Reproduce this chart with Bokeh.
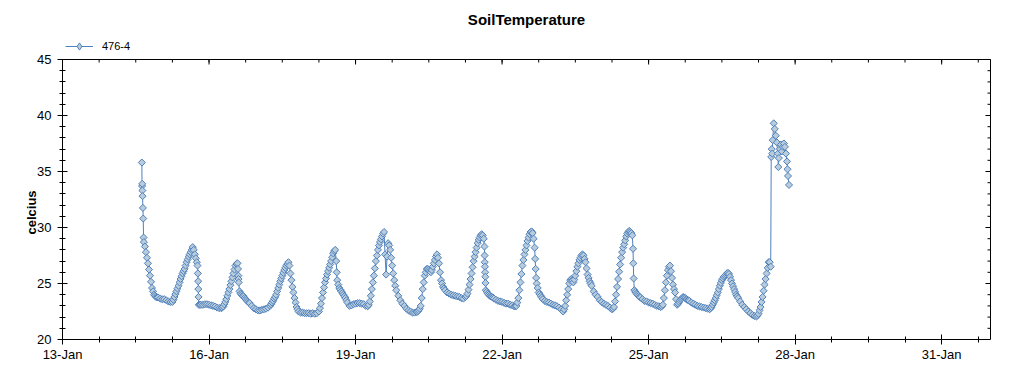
import numpy as np
import pandas as pd
from bokeh.plotting import figure
from bokeh.models import (FixedTicker, DatetimeTickFormatter, Range1d, Legend,
                          LegendItem, ColumnDataSource, Label, Title)
from bokeh.embed import file_html
from bokeh.resources import INLINE

title_text = "SoilTemperature"
series_name = "476-4"
y_label = "celcius"

# hourly readings (°C), each list starts at the given time
jan14_start = "2014-01-14 15:00"
jan14 = [35.8, 28.7, 27.8, 26.8, 25.7, 24.6, 24.0, 23.8, 23.75]
jan15 = [23.65, 23.6, 23.6, 23.5, 23.4, 23.35, 23.35, 23.8, 24.3, 24.8, 25.4, 25.9,
         26.3, 26.9, 27.4, 27.8, 28.25, 27.6, 26.9, 23.1, 23.1, 23.1, 23.15, 23.15]
jan16 = [23.1, 23.05, 23.0, 22.95, 22.85, 22.8, 22.8, 22.95, 23.35, 23.9, 24.5, 25.2,
         25.9, 26.6, 26.8, 24.3, 24.0, 23.85, 23.6, 23.4, 23.25, 23.0, 22.8, 22.7]
jan17 = [22.6, 22.6, 22.65, 22.7, 22.75, 22.85, 23.0, 23.3, 23.65, 24.0, 24.6, 25.2,
         25.7, 26.2, 26.6, 26.9, 25.9, 24.7, 23.7, 22.9, 22.5, 22.4, 22.4, 22.35]
jan18 = [22.35, 22.35, 22.3, 22.35, 22.3, 22.35, 22.5, 23.2, 24.2, 25.1, 25.8, 26.4,
         27.0, 27.7, 28.0, 25.3, 24.6, 24.3, 24.0, 23.7, 23.3, 23.0, 23.05, 23.15]
jan19 = [23.2, 23.25, 23.25, 23.2, 23.15, 23.0, 22.97, 23.4, 24.5, 25.7, 27.0, 28.0,
         28.7, 29.2, 29.6, 25.8, 28.6, 28.0, 26.6, 25.3, 24.4, 23.9, 23.5, 23.2]
jan20 = [23.0, 22.75, 22.6, 22.5, 22.4, 22.4, 22.45, 22.6, 23.0, 24.5, 25.7, 26.3,
         26.2, 26.0, 26.5, 27.1, 27.6, 26.8, 25.3, 24.7, 24.4, 24.2, 24.1, 24.0]
jan21 = [23.95, 23.9, 23.85, 23.8, 23.7, 23.65, 23.8, 24.1, 24.9, 25.9, 27.0, 27.8,
         28.6, 29.1, 29.4, 29.0, 24.4, 24.1, 23.9, 23.8, 23.66, 23.55, 23.45, 23.4]
jan22 = [23.35, 23.27, 23.2, 23.2, 23.1, 23.05, 22.95, 23.0, 23.7, 25.1, 26.6, 27.6,
         28.4, 29.1, 29.6, 29.5, 28.2, 25.0, 24.2, 23.9, 23.6, 23.45, 23.35, 23.3]
jan23 = [23.2, 23.1, 23.05, 22.97, 22.85, 22.7, 22.5, 23.0, 24.0, 25.0, 25.4, 25.1,
         25.7, 26.5, 27.1, 27.5, 27.5, 26.9, 25.8, 25.2, 24.8, 24.3, 24.0, 23.8]
jan24 = [23.5, 23.35, 23.2, 23.1, 23.0, 22.85, 22.7, 22.9, 24.0, 25.4, 26.7, 27.8,
         28.5, 29.2, 29.6, 29.6, 29.3, 24.4, 24.1, 23.9, 23.75, 23.6, 23.45, 23.4]
jan25 = [23.3, 23.25, 23.2, 23.1, 23.0, 22.97, 22.9, 23.1, 24.4, 25.7, 26.5, 26.1,
         24.9, 24.2, 23.1, 23.35, 23.6, 23.8, 23.7, 23.55, 23.45, 23.3, 23.2, 23.1]
jan26 = [23.0, 22.95, 22.9, 22.85, 22.8, 22.75, 22.7, 22.9, 23.3, 23.7, 24.2, 24.8,
         25.3, 25.6, 25.8, 25.95, 25.6, 25.0, 24.5, 24.0, 23.7, 23.4, 23.1, 22.9]
jan27 = [22.7, 22.5, 22.35, 22.2, 22.1, 22.05, 22.3, 22.9, 23.8, 24.9, 25.9, 26.9, 26.5]

# half-past readings during the daytime swings, each list starts at the given time
jan14_half_start = "2014-01-14 16:30"
jan14_half = [28.3, 27.3, 26.25, 25.15, 24.3, 23.9, 23.77]
jan15_half = [23.55, 24.05, 24.55, 25.1, 25.65, 26.1, 26.6, 27.15, 27.6, 28.0, 28.0,
              27.25, 25.9, 23.1]
jan16_half = [22.85, 23.15, 23.6, 24.2, 24.85, 25.55, 26.25, 26.75, 25.4, 24.1, 23.9,
              23.7, 23.5, 23.3]
jan17_half = [23.15, 23.45, 23.8, 24.3, 24.9, 25.45, 25.95, 26.4, 26.75, 26.6, 25.3,
              24.2, 23.3, 22.7]
jan18_half = [22.8, 23.7, 24.65, 25.45, 26.1, 26.7, 27.35, 27.9, 27.0, 24.9, 24.45,
              24.15, 23.85, 23.5]
jan19_half = [23.1, 23.9, 25.1, 26.35, 27.5, 28.4, 28.95, 29.45, 27.6, 27.4, 28.4,
              27.3, 25.9, 24.8]
jan20_half = [22.5, 22.75, 23.7, 25.1, 26.0, 26.3, 26.1, 26.2, 26.8, 27.4, 27.3, 26.0,
              25.0, 24.55]
jan21_half = [23.9, 24.45, 25.4, 26.45, 27.4, 28.2, 28.9, 29.3, 29.3, 26.9, 24.25,
              24.0, 23.85, 23.75]
jan22_half = [22.97, 23.3, 24.4, 25.85, 27.1, 28.0, 28.8, 29.4, 29.65, 29.0, 26.3,
              24.6, 24.05, 23.75]
jan23_half = [22.7, 23.5, 24.5, 25.3, 25.3, 25.35, 26.1, 26.8, 27.3, 27.6, 27.2, 26.35,
              25.5, 25.0]
jan24_half = [22.75, 23.4, 24.7, 26.05, 27.3, 28.2, 28.85, 29.45, 29.7, 29.5, 26.8,
              24.25, 24.0, 23.8]
jan25_half = [22.97, 23.7, 25.1, 26.2, 26.6, 25.5, 24.5, 23.6, 23.2, 23.5, 23.7, 23.75,
              23.6, 23.5]
jan26_half = [22.8, 23.1, 23.5, 23.95, 24.5, 25.05, 25.45, 25.7, 25.9, 25.85, 25.3,
              24.75, 24.25, 23.85]
jan27_half_start = "2014-01-27 05:30"
jan27_half = [22.15, 22.6, 23.35, 24.35, 25.4, 26.4, 26.9]

# extra readings between the hours (fast changes)
burst_times = [
    "2014-01-14 15:05", "2014-01-14 15:10", "2014-01-14 15:15", "2014-01-14 15:20",
    "2014-01-14 15:30", "2014-01-14 15:40", "2014-01-14 15:50",
    "2014-01-15 18:20", "2014-01-15 18:30", "2014-01-15 18:40", "2014-01-15 18:45",
    "2014-01-15 18:50",
    "2014-01-16 14:15", "2014-01-16 14:25", "2014-01-16 14:35",
    "2014-01-18 14:30", "2014-01-18 14:45",
    "2014-01-19 14:30", "2014-01-19 15:30",
    "2014-01-21 15:20", "2014-01-21 15:25", "2014-01-21 15:30", "2014-01-21 15:35",
    "2014-01-21 15:40", "2014-01-21 15:45", "2014-01-21 15:50",
    "2014-01-22 16:15", "2014-01-22 16:30", "2014-01-22 16:45",
    "2014-01-24 16:20", "2014-01-24 16:40",
    "2014-01-27 12:15", "2014-01-27 12:30", "2014-01-27 12:45", "2014-01-27 13:00",
    "2014-01-27 13:30", "2014-01-27 14:00", "2014-01-27 14:30", "2014-01-27 15:00",
    "2014-01-27 15:30", "2014-01-27 15:45", "2014-01-27 16:00", "2014-01-27 16:30",
    "2014-01-27 17:00", "2014-01-27 17:30", "2014-01-27 18:00", "2014-01-27 18:30",
    "2014-01-27 19:00", "2014-01-27 19:30", "2014-01-27 20:00", "2014-01-27 20:15",
    "2014-01-27 20:30", "2014-01-27 21:00",
]
burst_temps = [
    33.7, 33.9, 33.3, 32.8, 31.75, 30.8, 29.1,
    26.6, 25.9, 25.2, 24.5, 23.8,
    26.3, 25.7, 25.1,
    27.0, 26.0,
    27.6, 27.4,
    28.3, 27.5, 26.9, 26.5, 26.0, 25.6, 25.05,
    27.2, 26.3, 25.5,
    28.1, 25.45,
    36.3, 37.0, 36.6, 37.8, 39.3, 38.8, 38.2, 37.6, 36.6, 35.4, 36.2, 37.0,
    37.4, 36.8, 37.2, 37.5, 37.2, 36.6, 35.9, 35.2, 34.6, 33.8,
]

x_start = "2014-01-13"
x_end = "2014-02-01"
x_major_ticks = ["2014-01-13", "2014-01-16", "2014-01-19", "2014-01-22",
                 "2014-01-25", "2014-01-28", "2014-01-31"]
y_min, y_max = 20, 45
y_major = [20, 25, 30, 35, 40, 45]

# ---- build table ----
day_lists = [(jan14_start, jan14), ("2014-01-15", jan15), ("2014-01-16", jan16),
             ("2014-01-17", jan17), ("2014-01-18", jan18), ("2014-01-19", jan19),
             ("2014-01-20", jan20), ("2014-01-21", jan21), ("2014-01-22", jan22),
             ("2014-01-23", jan23), ("2014-01-24", jan24), ("2014-01-25", jan25),
             ("2014-01-26", jan26), ("2014-01-27", jan27),
             (jan14_half_start, jan14_half),
             ("2014-01-15 06:30", jan15_half), ("2014-01-16 06:30", jan16_half),
             ("2014-01-17 06:30", jan17_half), ("2014-01-18 06:30", jan18_half),
             ("2014-01-19 06:30", jan19_half), ("2014-01-20 06:30", jan20_half),
             ("2014-01-21 06:30", jan21_half), ("2014-01-22 06:30", jan22_half),
             ("2014-01-23 06:30", jan23_half), ("2014-01-24 06:30", jan24_half),
             ("2014-01-25 06:30", jan25_half), ("2014-01-26 06:30", jan26_half),
             (jan27_half_start, jan27_half)]
frames = [pd.DataFrame({"t": pd.to_datetime(burst_times), "v": burst_temps})]
for start, vals in day_lists:
    frames.append(pd.DataFrame({"t": pd.date_range(start, periods=len(vals), freq="h"),
                                "v": vals}))
df = (pd.concat(frames).drop_duplicates("t", keep="first")
      .sort_values("t").reset_index(drop=True))
src = ColumnDataSource(df)

# ---- layout constants ----
FONT = "Liberation Sans"
LINE = "#4F81BD"
FILL = "#B9CCDB"
PLOT_W, PLOT_H = 928, 280      # box of the axes (pixels)
EXTRA_TOP = 54                 # room above the box for title and legend
EXTRA_RIGHT = 3
FW, FH = PLOT_W + EXTRA_RIGHT, PLOT_H + EXTRA_TOP

ms = lambda s: pd.Timestamp(s).value / 1e6
x0_ms, x1_ms = ms(x_start), ms(x_end)
px = (x1_ms - x0_ms) / PLOT_W      # ms per pixel
py = (y_max - y_min) / PLOT_H      # degrees per pixel

p = figure(frame_width=FW, frame_height=FH, x_axis_type="datetime",
           x_range=Range1d(x0_ms, x1_ms + EXTRA_RIGHT * px),
           y_range=Range1d(y_min, y_max + EXTRA_TOP * py),
           output_backend="svg", toolbar_location=None, title=None,
           min_border_left=62, min_border_right=23, min_border_top=5,
           min_border_bottom=30)
p.xgrid.visible = False
p.ygrid.visible = False
p.outline_line_color = None
p.background_fill_color = "white"

line_r = p.line("t", "v", source=src, line_color=LINE, line_width=1)
pts_r = p.scatter("t", "v", source=src, marker="square", angle=np.pi / 4, size=5,
                  line_color=LINE, fill_color=FILL, line_width=1)
# legend sample marker (a single empty NaN point, never drawn in the plot)
legend_pt = p.scatter(x=[float("nan")], y=[float("nan")], marker="diamond", size=8,
                      line_color=LINE, fill_color=FILL, line_width=1)

major = [ms(s) for s in x_major_ticks]
minor = [ms(t) for t in pd.date_range(x_start, x_end, freq="18h")]
xticker = FixedTicker(ticks=major, minor_ticks=minor)
fmt = DatetimeTickFormatter(days="%d-%b", months="%d-%b", hours="%d-%b", years="%d-%b")
y_minor = [v for v in range(y_min, y_max + 1) if v not in y_major]
yticker = FixedTicker(ticks=y_major, minor_ticks=y_minor)

xa = p.xaxis[0]
xa.ticker = xticker
xa.formatter = fmt
xa.bounds = (x0_ms, x1_ms)
ya = p.yaxis[0]
ya.ticker = yticker
ya.bounds = (y_min, y_max)
for ax in (xa, ya):
    ax.axis_line_color = "black"
    ax.major_tick_line_color = "black"
    ax.minor_tick_line_color = "black"
    ax.major_tick_in = 5
    ax.major_tick_out = 5
    ax.minor_tick_in = 3
    ax.minor_tick_out = 3
    ax.major_label_text_font = FONT
    ax.major_label_text_font_size = "13px"
    ax.major_label_text_color = "black"
xa.major_label_standoff = 2
ya.major_label_standoff = 6

# y-axis title, placed beside the 20..45 box
p.add_layout(Title(text=y_label, align="left", offset=105,
                   standoff=-8, text_font=FONT, text_font_size="13px",
                   text_font_style="bold", text_color="black"), "left")

# top and right edges of the box, with inward ticks
p.segment(x0=[x0_ms, x1_ms], x1=[x1_ms, x1_ms], y0=[y_max, y_min], y1=[y_max, y_max],
          line_color="black", line_width=1)
top_x = major + minor
top_len = [5] * len(major) + [3] * len(minor)
p.segment(x0=top_x, x1=top_x, y0=[y_max] * len(top_x),
          y1=[y_max - L * py for L in top_len], line_color="black", line_width=1)
right_y = y_major + y_minor
right_len = [5] * len(y_major) + [3] * len(y_minor)
p.segment(x0=[x1_ms] * len(right_y), x1=[x1_ms - L * px for L in right_len],
          y0=right_y, y1=right_y, line_color="black", line_width=1)

# legend just above the box, top-left
legend = Legend(items=[LegendItem(label=series_name, renderers=[line_r, legend_pt])],
                orientation="horizontal", location=(3, PLOT_H + 4),
                glyph_width=28, glyph_height=18, label_height=18, label_standoff=9,
                padding=0, margin=0, spacing=0,
                label_text_font=FONT, label_text_font_size="11px",
                label_text_color="black",
                border_line_color=None, background_fill_alpha=0)
p.add_layout(legend, "center")

# title centred over the box
p.add_layout(Label(x=PLOT_W / 2, y=PLOT_H + 40, x_units="screen", y_units="screen",
                   text=title_text, text_align="center", text_baseline="middle",
                   text_font=FONT, text_font_size="15px", text_font_style="bold",
                   text_color="black"))

open("out.html", "w").write(file_html(p, INLINE))
